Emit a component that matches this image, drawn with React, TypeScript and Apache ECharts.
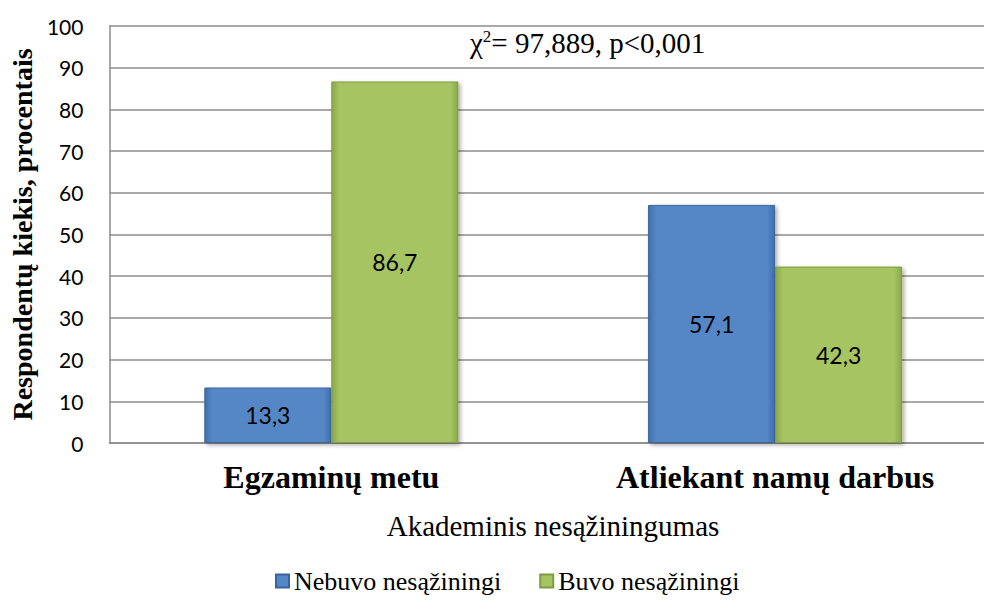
import React, { useEffect, useRef } from "react";
import * as echarts from "echarts";

const categories = ["Egzaminų metu", "Atliekant namų darbus"];
const seriesNames = ["Nebuvo nesąžiningi", "Buvo nesąžiningi"];
const nebuvo = [13.3, 57.1];
const buvo = [86.7, 42.3];
const yTicks = { min: 0, max: 100, interval: 10 };

const SERIF = "'Liberation Serif', 'Times New Roman', serif";
const SANS = "Lato, 'Open Sans', sans-serif";

export default function App() {
  const ref = useRef<HTMLDivElement>(null);
  useEffect(() => {
    if (!ref.current) return;
    const chart = echarts.init(ref.current, undefined, { renderer: "svg" });
    const fmt = (p: any) => String(p.value).replace(".", ",");
    const barStyle = (c1: string, c2: string, border: string) => ({
      color: new echarts.graphic.LinearGradient(0, 0, 1, 0, [
        { offset: 0, color: c2 },
        { offset: 0.06, color: c1 },
        { offset: 0.94, color: c1 },
        { offset: 1, color: c2 },
      ]),
      borderColor: border,
      borderWidth: 1,
      shadowColor: "rgba(0,0,0,0.35)",
      shadowBlur: 4,
      shadowOffsetX: 2,
      shadowOffsetY: 2,
    });
    chart.setOption({
      animation: false,
      backgroundColor: "#fff",
      grid: { left: 109, top: 26, width: 888, height: 417, containLabel: false },
      legend: {
        data: seriesNames,
        top: 563,
        left: 270,
        itemWidth: 13,
        itemHeight: 13,
        itemGap: 38,
        icon: "rect",
        textStyle: { fontFamily: SERIF, fontSize: 26, color: "#000" },
      },
      xAxis: {
        type: "category",
        data: categories,
        axisLine: { show: true, lineStyle: { color: "#8c8c8c", width: 1.5 } },
        axisTick: { show: false },
        axisLabel: {
          fontFamily: SERIF,
          fontWeight: "bold",
          fontSize: 32,
          color: "#000",
          margin: 18,
        },
      },
      yAxis: {
        type: "value",
        min: yTicks.min,
        max: yTicks.max,
        interval: yTicks.interval,
        name: "Respondentų kiekis, procentais",
        nameLocation: "middle",
        nameGap: 69,
        nameTextStyle: { fontFamily: SERIF, fontWeight: "bold", fontSize: 28, color: "#000" },
        axisLine: { show: true, lineStyle: { color: "#8c8c8c", width: 1.5 } },
        axisTick: { show: false },
        axisLabel: { fontFamily: SANS, fontSize: 21, color: "#000", margin: 26 },
        splitLine: { show: true, lineStyle: { color: "#8c8c8c", width: 1.5 } },
      },
      series: [
        {
          name: seriesNames[0],
          type: "bar",
          data: nebuvo,
          barWidth: 127,
          barGap: "0%",
          itemStyle: barStyle("#5587c7", "#3f6fab", "#3a659c"),
          label: { show: true, position: "inside", formatter: fmt, fontFamily: SANS, fontSize: 23, color: "#000" },
        },
        {
          name: seriesNames[1],
          type: "bar",
          data: buvo,
          barWidth: 127,
          barGap: "0%",
          itemStyle: barStyle("#a6c462", "#8aa84a", "#7f9c42"),
          label: { show: true, position: "inside", formatter: fmt, fontFamily: SANS, fontSize: 23, color: "#000" },
        },
      ],
      graphic: [
        {
          type: "text",
          left: 470,
          top: 28,
          style: {
            text: "{a|χ}{s|2}{a|= 97,889, p<0,001}",
            rich: {
              a: { fontFamily: SERIF, fontSize: 29, color: "#000", verticalAlign: "bottom" },
              s: { fontFamily: SERIF, fontSize: 17, color: "#000", verticalAlign: "top", padding: [0, 0, 12, 0] },
            },
          },
        },
        {
          type: "text",
          x: 553,
          y: 526,
          style: {
            text: "Akademinis nesąžiningumas",
            fontFamily: SERIF,
            fontSize: 29,
            fill: "#000",
            align: "center",
            verticalAlign: "middle",
          },
        },
      ],
    });
    return () => chart.dispose();
  }, []);
  return (
    <div style={{ position: "absolute", left: 0, top: 0, width: 984, height: 607, overflow: "hidden", background: "#fff" }}>
      <div ref={ref} style={{ width: 1000, height: 607 }} />
    </div>
  );
}
